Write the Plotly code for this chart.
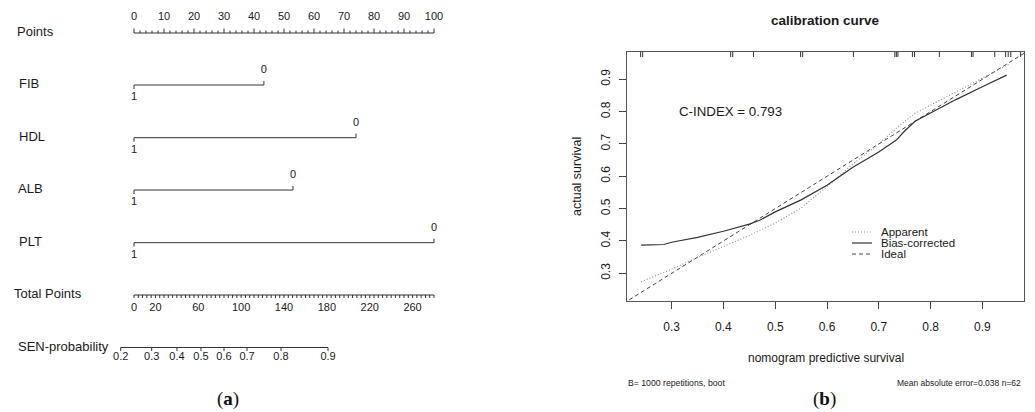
import plotly.graph_objects as go

W, H = 1035, 412

# ---------------- (a) nomogram data ----------------
points_major = [0, 10, 20, 30, 40, 50, 60, 70, 80, 90, 100]
points_minor = list(range(0, 101, 2))
variables = ["FIB", "HDL", "ALB", "PLT"]
points_level0 = [43.3, 74.0, 53.0, 100.0]   # points when the factor is 0
points_level1 = [0.0, 0.0, 0.0, 0.0]        # points when the factor is 1
level0_text = "0"
level1_text = "1"
total_max = 280
total_labels = [0, 20, 60, 100, 140, 180, 220, 260]
total_minor = list(range(0, 281, 4))
prob_labels = ["0.2", "0.3", "0.4", "0.5", "0.6", "0.7", "0.8", "0.9"]
prob_total_points = [-12.4, 16.5, 40.1, 62.5, 84.0, 105.5, 137.2, 181.1]

# ---------------- (b) calibration data ----------------
cal_ticks = [0.3, 0.4, 0.5, 0.6, 0.7, 0.8, 0.9]
rug_x = [0.240, 0.244, 0.414, 0.418, 0.458, 0.549, 0.553, 0.651, 0.731, 0.734,
         0.737, 0.765, 0.769, 0.817, 0.879, 0.882, 0.924, 0.945, 0.950, 0.955, 0.974]
app_x = [0.241, 0.30, 0.35, 0.40, 0.45, 0.50, 0.55, 0.60, 0.65, 0.70, 0.74, 0.77,
         0.80, 0.85, 0.90, 0.952]
app_y = [0.274, 0.313, 0.349, 0.383, 0.417, 0.455, 0.502, 0.568, 0.638, 0.700, 0.757,
         0.795, 0.820, 0.860, 0.902, 0.947]
bc_x = [0.241, 0.285, 0.30, 0.35, 0.40, 0.45, 0.47, 0.50, 0.55, 0.60, 0.65, 0.70,
        0.734, 0.75, 0.77, 0.80, 0.85, 0.90, 0.947]
bc_y = [0.387, 0.389, 0.396, 0.411, 0.430, 0.452, 0.464, 0.490, 0.527, 0.572, 0.628,
        0.675, 0.712, 0.740, 0.770, 0.795, 0.838, 0.877, 0.913]
ideal_x = [0.0, 1.0]
ideal_y = [0.0, 1.0]
c_index = 0.793
B_reps = 1000
mae = 0.038
n_obs = 62

# ---------------- layout geometry ----------------
FONT = "Liberation Sans, Arial, Helvetica, sans-serif"
TXT = "#1a1a1a"
LN = "#333333"
ROW_Y = [33, 85, 137.7, 190, 242.7, 295, 347.5]
ROW_NAMES = ["Points"] + variables + ["Total Points", "SEN-probability"]
NAME_X = [15, 16.5, 16.5, 16, 17, 12, 16]
X0_PX, PX_PER_PT = 134.0, 3.0
tp2pt = 100.0 / total_max

BOX = dict(l=627, r=1024, t=52, b=301)
XR = [0.2137, 0.9805]
YR = [0.2143, 0.9844]

fig = go.Figure()


def seg_trace(xs, ys, axis=("x", "y"), color=LN, width=1, dash=None):
    fig.add_trace(go.Scatter(x=xs, y=ys, mode="lines", xaxis=axis[0], yaxis=axis[1],
                             line=dict(color=color, width=width, dash=dash),
                             hoverinfo="skip", showlegend=False))


def text_trace(xs, ys, texts, size=11):
    fig.add_trace(go.Scatter(x=xs, y=ys, mode="text", text=texts, textposition="middle center",
                             textfont=dict(family=FONT, size=size, color=[TXT] * len(texts)),
                             cliponaxis=False, hoverinfo="skip", showlegend=False))


# Points axis
y = ROW_Y[0]
xs, ys = [points_major[0], points_major[-1], None], [y, y, None]
for p in points_minor:
    L = 4.5 if p in points_major else 2.5
    xs += [p, p, None]
    ys += [y, y - L, None]
seg_trace(xs, ys)
text_trace(points_major, [y - 15.5] * len(points_major), [str(p) for p in points_major])

# variable rows
for i, name in enumerate(variables):
    y = ROW_Y[i + 1]
    a, b = points_level1[i], points_level0[i]
    seg_trace([a, b, None, a, a, None, b, b], [y, y, None, y, y + 4, None, y, y - 4])
    text_trace([b, a], [y - 14.7, y + 12.5], [level0_text, level1_text])

# Total points axis
y = ROW_Y[5]
xs, ys = [0, total_max * tp2pt, None], [y, y, None]
for t in total_minor:
    xs += [t * tp2pt, t * tp2pt, None]
    ys += [y, y + 3, None]
seg_trace(xs, ys)
text_trace([t * tp2pt for t in total_labels], [y + 13] * len(total_labels),
           [str(t) for t in total_labels])

# SEN-probability axis
y = ROW_Y[6]
pxs = [t * tp2pt for t in prob_total_points]
xs, ys = [pxs[0], pxs[-1], None], [y, y, None]
for p in pxs:
    xs += [p, p, None]
    ys += [y, y + 3.5, None]
seg_trace(xs, ys)
text_trace(pxs, [y + 10] * len(pxs), prob_labels)

# ---------------- calibration panel ----------------
ax2 = ("x2", "y2")
seg_trace(ideal_x, ideal_y, ax2, color="#444444", width=1, dash="4px,3px")
seg_trace(app_x, app_y, ax2, color="#8c8c8c", width=1.1, dash="1px,2px")
seg_trace(bc_x, bc_y, ax2, color="#333333", width=1.2)
rx, ry = [], []
rug_len = 5.0 / (BOX["b"] - BOX["t"]) * (YR[1] - YR[0])
for r in rug_x:
    rx += [r, r, None]
    ry += [YR[1], YR[1] - rug_len, None]
seg_trace(rx, ry, ax2, color="#333333", width=1)

annotations = []
for name, nx, ny in zip(ROW_NAMES, NAME_X, ROW_Y):
    annotations.append(dict(text=name, x=nx / W, xref="paper", y=ny - 1.5, yref="y",
                            xanchor="left", yanchor="middle", showarrow=False,
                            font=dict(family=FONT, size=13, color=TXT)))


def pann(text, px, py, size, xanchor="center", angle=0, family=FONT, color=TXT):
    annotations.append(dict(text=text, x=px / W, y=1 - py / H, xref="paper", yref="paper",
                            xanchor=xanchor, yanchor="middle", showarrow=False, textangle=angle,
                            font=dict(family=family, size=size, color=color)))


cx = (BOX["l"] + BOX["r"]) / 2
pann("<b>calibration curve</b>", cx, 21, 13.5)
pann(f"C-INDEX = {c_index}", 730, 111, 13.3)
pann("nomogram predictive survival", cx, 358, 12)
pann("actual survival", 577, 177, 12.5, angle=-90)
pann(f"B= {B_reps} repetitions, boot", 626, 383, 8.7, xanchor="left")
pann(f"Mean absolute error={mae} n={n_obs}", 1023, 383, 8.5, xanchor="right")
SERIF = "Liberation Serif, Times New Roman, serif"
pann("(<b>a</b>)", 228, 399, 19, family=SERIF, color="#111111")
pann("(<b>b</b>)", 824, 399, 19, family=SERIF, color="#111111")

# legend
shapes = []
leg = [("Apparent", "#8c8c8c", "1px,2px"), ("Bias-corrected", "#333333", None),
       ("Ideal", "#444444", "4px,3px")]
for k, (lab, col, dsh) in enumerate(leg):
    ly = 232 + 11 * k
    shapes.append(dict(type="line", xref="paper", yref="paper", x0=852 / W, x1=872 / W,
                       y0=1 - ly / H, y1=1 - ly / H,
                       line=dict(color=col, width=1.2 if dsh is None else 1, dash=dsh)))
    pann(lab, 879, ly, 11.5, xanchor="left")

fig.update_layout(
    width=W, height=H, autosize=False,
    margin=dict(l=0, r=0, t=0, b=0),
    paper_bgcolor="white", plot_bgcolor="white",
    font=dict(family=FONT, color=TXT),
    showlegend=False,
    annotations=annotations,
    shapes=shapes,
    xaxis=dict(domain=[0, 0.5], range=[(0 - X0_PX) / PX_PER_PT, (0.5 * W - X0_PX) / PX_PER_PT],
               visible=False, fixedrange=True),
    yaxis=dict(domain=[0, 1], range=[H, 0], visible=False, fixedrange=True),
    xaxis2=dict(domain=[BOX["l"] / W, BOX["r"] / W], range=XR, anchor="y2",
                tickvals=cal_ticks, ticks="outside", ticklen=7, tickcolor="#444444",
                showline=True, mirror=True, linecolor="#555555", linewidth=1,
                showgrid=False, zeroline=False, ticklabelstandoff=8,
                tickfont=dict(family=FONT, size=12, color=TXT)),
    yaxis2=dict(domain=[1 - BOX["b"] / H, 1 - BOX["t"] / H], range=YR, anchor="x2",
                tickvals=cal_ticks, ticks="outside", ticklen=7, tickcolor="#444444",
                showline=True, mirror=True, linecolor="#555555", linewidth=1,
                showgrid=False, zeroline=False, tickangle=-90, ticklabelstandoff=4,
                tickfont=dict(family=FONT, size=12, color=TXT)),
)

fig.write_html("out.html")
